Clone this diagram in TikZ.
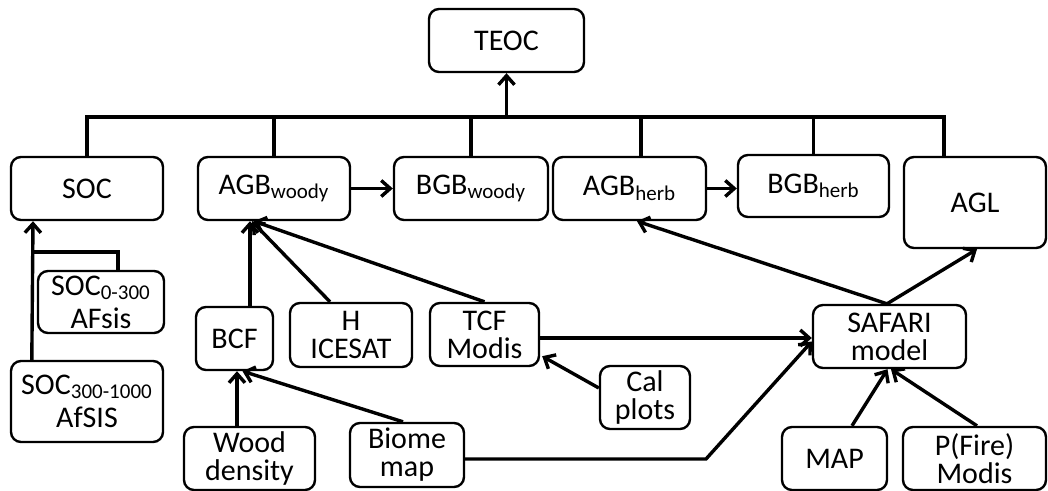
\documentclass[tikz,border=0pt]{standalone}
\usepackage{fontspec}
\setmainfont{Carlito}
\usetikzlibrary{calc,arrows.meta}
\begin{document}
\begin{tikzpicture}[x=0.5pt,y=-0.5pt,
  box/.style={draw, line width=1.2pt, rounded corners=5pt, align=center, inner sep=0pt, font=\fontsize{15}{14}\selectfont},
  subbox/.style={box, font=\fontsize{15}{16.5}\selectfont},
  link/.style={line width=1.7pt},
  arr/.style={link, -{Straight Barb[length=4.5pt,width=8pt]}}]
\useasboundingbox (0,0) rectangle (1048,491);
% top
\node[box, minimum width=77.5pt, minimum height=31.5pt] (teoc) at (506.5,40.5) {TEOC};
% pools
\node[box, minimum width=76pt, minimum height=31.5pt] (soc) at (87,188.5) {SOC};
\node[box, minimum width=76pt, minimum height=31.5pt] (agbw) at (274,188.5) {AGB\textsubscript{woody}};
\node[box, minimum width=77pt, minimum height=31.5pt] (bgbw) at (471,188.5) {BGB\textsubscript{woody}};
\node[box, minimum width=76.5pt, minimum height=31.5pt] (agbh) at (629.5,188.5) {AGB\textsubscript{herb}};
\node[box, minimum width=75.5pt, minimum height=31pt] (bgbh) at (813.5,186) {BGB\textsubscript{herb}};
\node[box, minimum width=71pt, minimum height=45.5pt] (agl) at (975,202.5) {AGL};
% data
\node[subbox, minimum width=63pt, minimum height=31pt] (soca) at (101,302) {SOC\textsubscript{0-300}\\AFsis};
\node[subbox, minimum width=76pt, minimum height=40.5pt] (socb) at (87,401.5) {SOC\textsubscript{300-1000}\\AfSIS};
\node[box, minimum width=38.5pt, minimum height=31.5pt] (bcf) at (234.5,338.5) {BCF};
\node[box, minimum width=61pt, minimum height=32pt] (hice) at (351,335) {H\\ICESAT};
\node[box, minimum width=54.5pt, minimum height=31.5pt] (tcf) at (484.5,334.5) {TCF\\Modis};
\node[box, minimum width=76.5pt, minimum height=31.5pt] (safari) at (889.5,336.5) {SAFARI\\model};
\node[box, minimum width=45pt, minimum height=31.5pt] (cal) at (645,397.5) {Cal\\plots};
\node[box, minimum width=65.5pt, minimum height=31.5pt] (wood) at (249.5,458.5) {Wood\\density};
\node[box, minimum width=57pt, minimum height=32pt] (biome) at (407,455) {Biome\\map};
\node[box, minimum width=52.5pt, minimum height=31.5pt] (map) at (834.5,458.5) {MAP};
\node[box, minimum width=71.5pt, minimum height=31.5pt] (pfire) at (974.5,458.5) {P(Fire)\\Modis};
% bus to TEOC
\coordinate (bus) at (506,117);
\coordinate (agbhtop) at ($(agbh.north)+(11.5,0)$);
\coordinate (agltop) at ($(agl.north)+(-31,0)$);
\draw[link] (soc.north) -- (soc.north |- bus) -- (agltop |- bus) -- (agltop);
\foreach \n in {agbw,bgbw,bgbh}
  \draw[link] (\n.north) -- (\n.north |- bus);
\draw[link] (agbhtop) -- (agbhtop |- bus);
\draw[arr] (teoc.south |- bus) -- (teoc.south);
\draw[arr] (agbw) -- (bgbw);
\draw[arr] (agbh.east) -- (bgbh.west |- agbh.east);
% soil
\coordinate (sx) at (33,252);
\draw[link] ($(soca.north)+(17,0)$) |- (sx);
\draw[arr] ($(socb.north west)+(22,0)$) -- (soc.south -| sx);
% woody
\coordinate (bcftop) at ($(bcf.north)+(15.5,0)$);
\draw[arr] (bcftop) -- (bcftop |- agbw.south);
\draw[arr] ($(hice.north)+(-21,0)$) -- ($(agbw.south west)+(55,0)$);
\draw[arr] (tcf.north) -- ($(agbw.south west)+(57,0)$);
\coordinate (woodtop) at ($(wood.north)+(-12.5,0)$);
\draw[arr] (woodtop) -- (woodtop |- bcf.south);
\draw[arr] ($(biome.north)+(-4,0)$) -- ($(bcf.south)+(8,0)$);
% SAFARI
\draw[arr] ($(safari.north)+(-2.5,0)$) -- ($(agbh.south)+(7.5,0)$);
\draw[arr] ($(safari.north)+(-2.5,0)$) -- ($(agl.south)+(2,0)$);
\draw[arr] ($(tcf.east)+(0,3.5)$) -- ($(safari.west)+(0,1.5)$);
\draw[arr] ($(cal.west)+(0,-9.5)$) -- ($(tcf.south east)+(2,-11)$);
\draw[arr] ($(biome.east)+(0,4)$) -- (706,459) -- ($(safari.west)+(0,5)$);
\draw[arr] ($(map.north)+(17.5,0)$) -- ($(safari.south)+(-2,0)$);
\draw[arr] ($(pfire.north)+(2.5,0)$) -- ($(safari.south)+(1.5,0)$);
\end{tikzpicture}
\end{document}
